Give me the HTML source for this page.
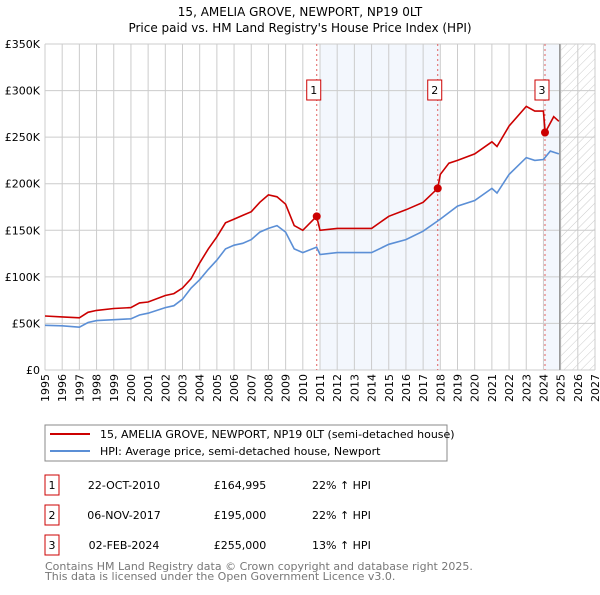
<!DOCTYPE html>
<html><head><meta charset="utf-8"><style>
body{margin:0;background:#fff;}
svg text{font-family:"DejaVu Sans","Liberation Sans",sans-serif;}
</style></head><body>
<svg width="600" height="590" xmlns="http://www.w3.org/2000/svg">
<defs><pattern id="hatch" width="6" height="6" patternUnits="userSpaceOnUse" patternTransform="rotate(45)"><line x1="0" y1="0" x2="0" y2="6" stroke="#ccc" stroke-width="1"/></pattern></defs>
<text x="300" y="16" text-anchor="middle" font-size="12" fill="#000">15, AMELIA GROVE, NEWPORT, NP19 0LT</text>
<text x="300" y="32" text-anchor="middle" font-size="12" fill="#000">Price paid vs. HM Land Registry's House Price Index (HPI)</text>
<g id="bg"></g><g id="grid"></g><g id="lines"></g><g id="marks"></g>
<g>
<rect x="45" y="425" width="402" height="36" fill="#fff" stroke="#888"/>
<line x1="50" y1="434" x2="90" y2="434" stroke="#cc0000" stroke-width="2"/>
<text x="100" y="438" font-size="11">15, AMELIA GROVE, NEWPORT, NP19 0LT (semi-detached house)</text>
<line x1="50" y1="451" x2="90" y2="451" stroke="#5b8fd6" stroke-width="2"/>
<text x="100" y="455" font-size="11">HPI: Average price, semi-detached house, Newport</text>
</g>
<g id="table" font-size="11"></g>
<text x="45" y="570" font-size="11" fill="#777">Contains HM Land Registry data © Crown copyright and database right 2025.</text>
<text x="45" y="580" font-size="11" fill="#777">This data is licensed under the Open Government Licence v3.0.</text>
</svg>
<script>
const hpiYears=[1995,1996,1997,1997.5,1998,1999,2000,2000.5,2001,2002,2002.5,2003,2003.5,2004,2004.5,2005,2005.5,2006,2006.5,2007,2007.5,2008,2008.5,2009,2009.5,2010,2010.8,2011,2012,2013,2014,2015,2016,2017,2018,2019,2020,2021,2021.3,2022,2023,2023.5,2024,2024.4,2024.9];
const hpiValues=[48,47.5,46,51,53,54,55,59,61,67,69,76,88,97,108,118,130,134,136,140,148,152,155,148,130,126,132,124,126,126,126,135,140,149,162,176,182,195,190,210,228,225,226,235,232];
const priceYears=[1995,1996,1997,1997.5,1998,1999,2000,2000.5,2001,2002,2002.5,2003,2003.5,2004,2004.5,2005,2005.5,2006,2006.5,2007,2007.5,2008,2008.5,2009,2009.5,2010,2010.8,2011,2012,2013,2014,2015,2016,2017,2017.85,2018,2018.5,2019,2020,2021,2021.3,2022,2023,2023.5,2024,2024.1,2024.6,2024.9];
const priceValues=[58,57,56,62,64,66,67,72,73,80,82,88,98,115,130,143,158,162,166,170,180,188,186,178,155,150,165,150,152,152,152,165,172,180,195,210,222,225,232,245,240,262,283,278,278,255,272,267];
const saleLabels=["1","2","3"];
const saleYears=[2010.81,2017.85,2024.09];
const saleValues=[164.995,195,255];
const saleDates=["22-OCT-2010","06-NOV-2017","02-FEB-2024"];
const salePrices=["£164,995","£195,000","£255,000"];
const saleHpi=["22% ↑ HPI","22% ↑ HPI","13% ↑ HPI"];
const yTicks=[0,50,100,150,200,250,300,350];
const yTickLabels=["£0","£50K","£100K","£150K","£200K","£250K","£300K","£350K"];
const xTicks=[1995,1996,1997,1998,1999,2000,2001,2002,2003,2004,2005,2006,2007,2008,2009,2010,2011,2012,2013,2014,2015,2016,2017,2018,2019,2020,2021,2022,2023,2024,2025,2026,2027];

const X0=45,X1=595,Y0=370,Y1=44;
const xs=y=>X0+(y-1995)/(2027-1995)*(X1-X0);
const ys=v=>Y0-v/350*(Y0-Y1);
const NS="http://www.w3.org/2000/svg";
function mk(tag,attrs,parent){const e=document.createElementNS(NS,tag);for(const k in attrs)e.setAttribute(k,attrs[k]);document.getElementById(parent).appendChild(e);return e;}

let r=mk('rect',{x:xs(2011),y:Y1,width:xs(2018)-xs(2011),height:Y0-Y1,fill:'#eef3fc',opacity:0.7},'bg');


r=mk('rect',{x:xs(2024.05),y:Y1,width:xs(2024.9)-xs(2024.05),height:Y0-Y1,fill:'#eef3fc',opacity:0.7},'bg');


r=mk('rect',{x:xs(2024.95),y:Y1,width:X1-xs(2024.95),height:Y0-Y1,fill:'url(#hatch)'},'bg');



yTicks.forEach((t,i)=>{
 const l=mk('line',{x1:X0,x2:X1,y1:ys(t),y2:ys(t),stroke:'#ccc'},'grid');
 
 
 const tx=mk('text',{x:40,y:ys(t)+4,'text-anchor':'end','font-size':11},'grid');
 tx.textContent=yTickLabels[i];
 
 
});
xTicks.forEach(t=>{
 const l=mk('line',{x1:xs(t),x2:xs(t),y1:Y1,y2:Y0,stroke:'#ccc'},'grid');
 
 
 const tx=mk('text',{x:0,y:0,'text-anchor':'end','font-size':11,transform:`translate(${xs(t)+4},374) rotate(-90)`},'grid');
 tx.textContent=t;
 
 
});
let bl=mk('line',{x1:xs(2024.95),x2:xs(2024.95),y1:Y1,y2:Y0,stroke:'#999','stroke-width':1.5},'grid');



saleYears.forEach((y,i)=>{
 const l=mk('line',{x1:xs(y),x2:xs(y),y1:Y1,y2:Y0,stroke:'#e06060','stroke-dasharray':'2,3'},'grid');
 
 
});

function path(xa,va,color,name){
 const d=xa.map((x,i)=>(i?'L':'M')+xs(x).toFixed(1)+','+ys(va[i]).toFixed(1)).join('');
 const p=mk('path',{d:d,fill:'none',stroke:color,'stroke-width':1.6},'lines');
 
 
}
path(hpiYears,hpiValues,'#5b8fd6','hpi-line');
path(priceYears,priceValues,'#cc0000','price-line');

saleYears.forEach((y,i)=>{
 const c=mk('circle',{cx:xs(y),cy:ys(saleValues[i]),r:4,fill:'#cc0000'},'marks');
 
 
 const bx=mk('rect',{x:xs(y)-10,y:80,width:14,height:20,fill:'#fff',stroke:'#cc0000'},'marks');
 
 
 const t=mk('text',{x:xs(y)-3,y:94,'text-anchor':'middle','font-size':11},'marks');
 t.textContent=saleLabels[i];
 
 
 const ry=483+i*30;
 const tb=mk('rect',{x:45,y:ry-8,width:14,height:20,fill:'#fff',stroke:'#cc0000'},'table');
 
 
 const cells=[[52,saleLabels[i],'middle'],[124,saleDates[i],'middle'],[240,salePrices[i],'middle'],[312,saleHpi[i],'start']];
 cells.forEach(c2=>{
  const tt=mk('text',{x:c2[0],y:ry+6,'text-anchor':c2[2],'font-size':11},'table');
  tt.textContent=c2[1];
  
  
 });
});
</script>
</body></html>
